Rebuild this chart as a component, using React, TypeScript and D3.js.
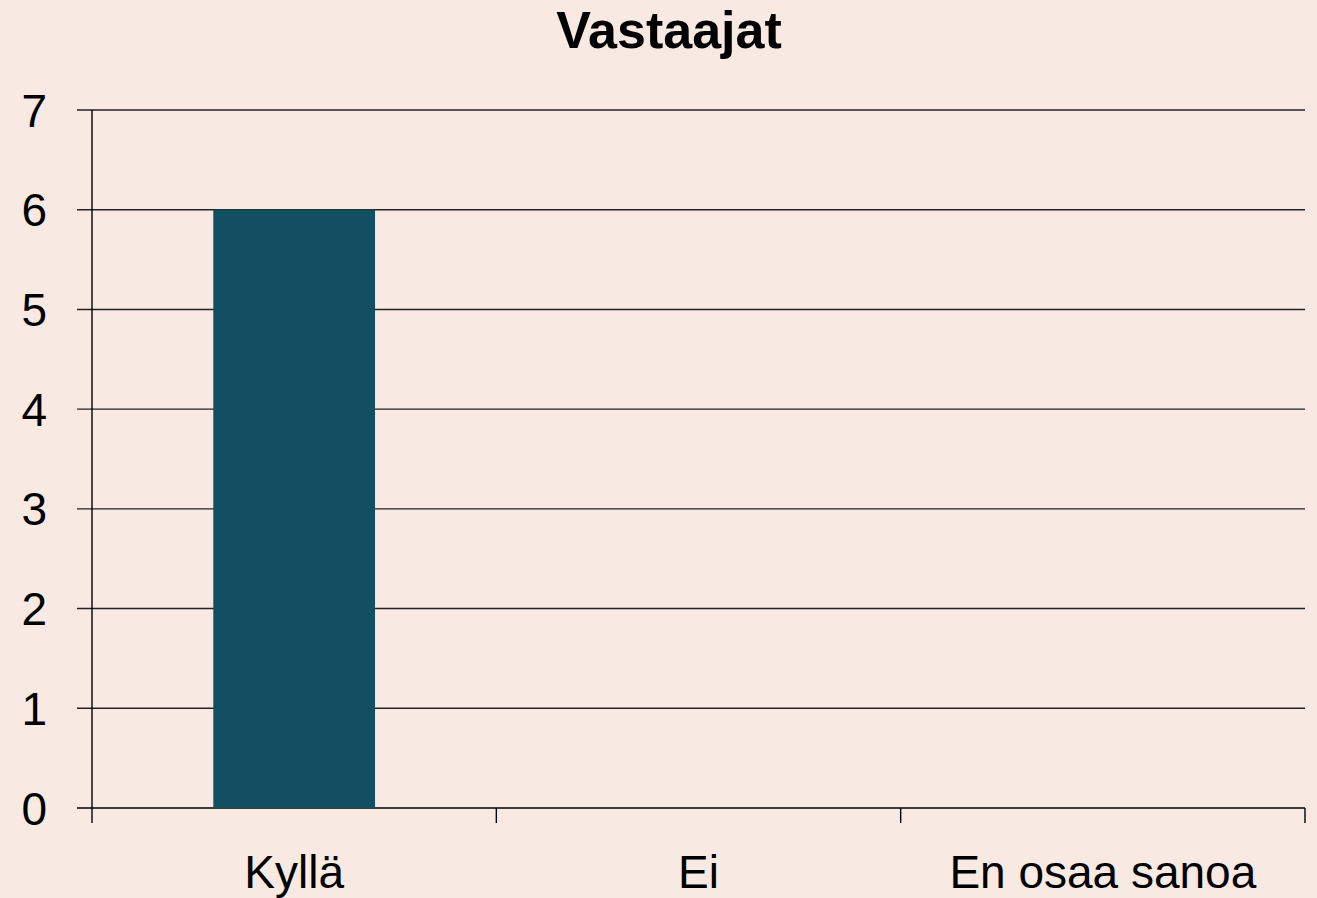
import React from "react";
import * as d3 from "d3";

const categories = ["Kyllä", "Ei", "En osaa sanoa"];
const values = [6, 0, 0];
const yTicks = [0, 1, 2, 3, 4, 5, 6, 7];
const title = "Vastaajat";

const W = 1317;
const H = 898;
const M = { left: 92, right: 1305, top: 110, bottom: 808 };

export default function App() {
  const x = d3.scaleBand<string>().domain(categories).range([M.left, M.right]).padding(0);
  const y = d3.scaleLinear().domain([0, 7]).range([M.bottom, M.top]);
  const bw = x.bandwidth() * 0.4;
  const font = "'Liberation Sans', Arial, sans-serif";
  const edges = [...categories.map((c) => x(c) as number), M.right];
  return (
    <svg width={W} height={H} style={{ position: "absolute", left: 0, top: 0 }} fontFamily={font}>
      <rect x={0} y={0} width={W} height={H} fill="#f8e9e2" />
      <text x={669} y={48} textAnchor="middle" fontSize={52} fontWeight="bold" fill="#000">
        {title}
      </text>
      {yTicks.map((t) => (
        <g key={t}>
          <line x1={77} x2={M.right} y1={y(t)} y2={y(t)} stroke={t === 0 ? "#000" : "#222"} strokeWidth={1.4} />
          <text x={47} y={y(t)} dy="0.36em" textAnchor="end" fontSize={46} fill="#000">
            {t}
          </text>
        </g>
      ))}
      {categories.map((c, i) => (
        <rect
          key={c}
          x={(x(c) as number) + (x.bandwidth() - bw) / 2}
          y={y(values[i])}
          width={bw}
          height={y(0) - y(values[i])}
          fill="#124f61"
        />
      ))}
      <line x1={M.left} x2={M.left} y1={M.top} y2={M.bottom + 15} stroke="#000" strokeWidth={1.4} />
      {edges.slice(1).map((e, i) => (
        <line key={i} x1={e} x2={e} y1={M.bottom} y2={M.bottom + 15} stroke="#000" strokeWidth={1.4} />
      ))}
      {categories.map((c) => (
        <text key={c} x={(x(c) as number) + x.bandwidth() / 2} y={888} textAnchor="middle" fontSize={46} fill="#000">
          {c}
        </text>
      ))}
    </svg>
  );
}
